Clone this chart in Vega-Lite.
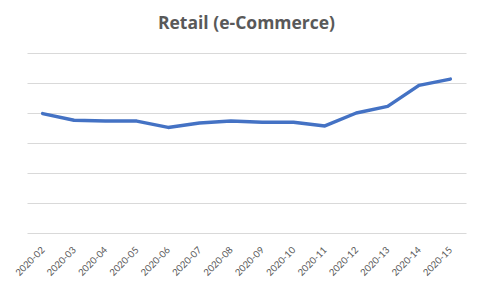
{
  "$schema": "https://vega.github.io/schema/vega-lite/v6.json",
  "width": 439,
  "height": 180,
  "autosize": {"type": "none"},
  "padding": {"left": 27, "top": 53, "right": 14, "bottom": 56},
  "background": "white",
  "title": {
    "text": "Retail (e-Commerce)",
    "font": "Open Sans",
    "fontSize": 17.5,
    "fontWeight": "bold",
    "color": "#595959",
    "offset": 21,
    "anchor": "middle"
  },
  "data": {
    "values": [
      {"week": "2020-02", "value": 3.98},
      {"week": "2020-03", "value": 3.76},
      {"week": "2020-04", "value": 3.73},
      {"week": "2020-05", "value": 3.73},
      {"week": "2020-06", "value": 3.52},
      {"week": "2020-07", "value": 3.67},
      {"week": "2020-08", "value": 3.73},
      {"week": "2020-09", "value": 3.69},
      {"week": "2020-10", "value": 3.69},
      {"week": "2020-11", "value": 3.57},
      {"week": "2020-12", "value": 4.0},
      {"week": "2020-13", "value": 4.22},
      {"week": "2020-14", "value": 4.92},
      {"week": "2020-15", "value": 5.13}
    ]
  },
  "mark": {"type": "line", "color": "#4472C4", "strokeWidth": 3.5, "strokeCap": "round", "strokeJoin": "round"},
  "encoding": {
    "x": {
      "field": "week",
      "type": "ordinal",
      "scale": {"type": "point", "padding": 0.5},
      "axis": {
        "title": null,
        "labelAngle": -45,
        "labelBaseline": "middle",
        "labelFont": "Lato",
        "labelFontSize": 9.5,
        "labelColor": "#595959",
        "domain": false,
        "ticks": false,
        "grid": false,
        "labelPadding": 15
      }
    },
    "y": {
      "field": "value",
      "type": "quantitative",
      "scale": {"domain": [0, 6], "nice": false},
      "axis": {
        "title": null,
        "labels": false,
        "ticks": false,
        "domain": false,
        "values": [0, 1, 2, 3, 4, 5, 6],
        "grid": true,
        "gridColor": "#d9d9d9",
        "gridWidth": 1
      }
    }
  },
  "config": {"view": {"stroke": null}}
}
